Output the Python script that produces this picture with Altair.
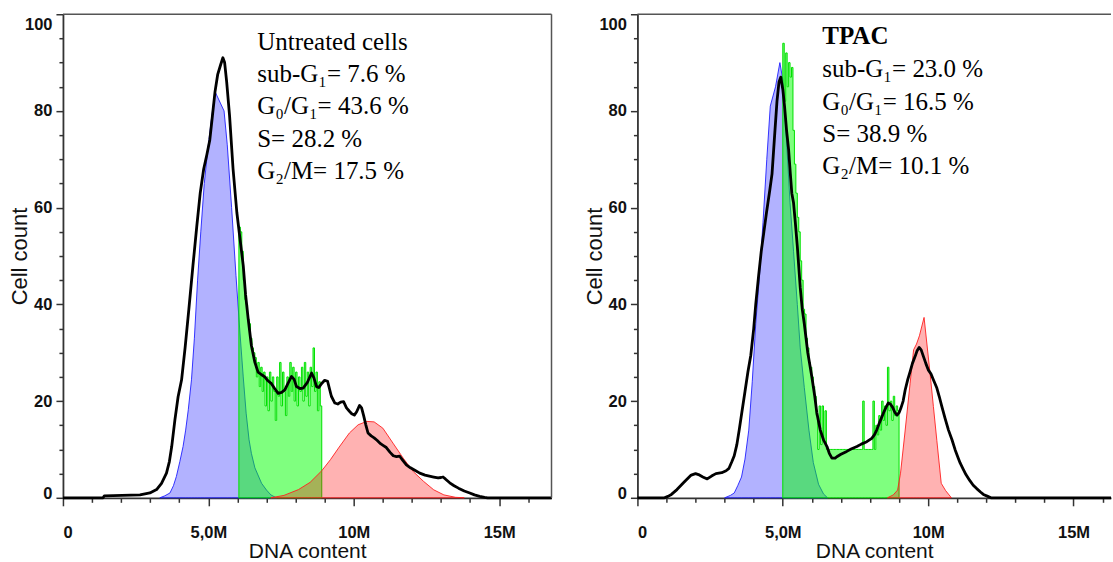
import altair as alt
import pandas as pd

# ---------------- data (x in millions of DNA-content units, y = cell count) -------------
# Left panel: untreated cells
L_black_x = [0, 1.38, 1.42, 2.65, 2.99, 3.22, 3.39, 3.56, 3.66, 3.74, 3.85, 3.96, 4.08, 4.2, 4.33, 4.47, 4.6, 4.72,
             4.84, 4.95, 5.05, 5.14, 5.23, 5.32, 5.42, 5.5, 5.56, 5.63, 5.73, 5.85, 5.98, 6.1, 6.2, 6.28, 6.37, 6.48,
             6.6, 6.71, 6.82, 6.94, 7.05, 7.17, 7.28, 7.4, 7.52, 7.63, 7.75, 7.86, 7.95, 8.03, 8.15, 8.26, 8.4, 8.55,
             8.63, 8.72, 8.8, 8.89, 9.0, 9.1, 9.23, 9.35, 9.45, 9.55, 9.65, 9.75, 9.85, 9.93, 10.02, 10.1, 10.2,
             10.27, 10.34, 10.41, 10.49, 10.6, 10.7, 10.8, 10.92, 11.02, 11.12, 11.25, 11.36, 11.47, 11.58, 11.68,
             11.81, 11.95, 12.1, 12.27, 12.45, 12.6, 12.75, 12.9, 13.0, 13.07, 13.15, 13.3, 13.45, 13.6, 13.8, 13.99,
             14.15, 14.33, 14.5, 14.6, 16.8]
L_black_y = [0, 0, 0.4, 0.6, 1.0, 1.7, 3.0, 5.1, 7.5, 10.6, 16.1, 20.9, 24.4, 31, 39, 48, 56, 63,
             68, 71, 74, 79, 84, 87.5, 89.5, 91, 90, 86, 79, 68, 59, 53, 48, 42, 37, 31.5,
             28, 26, 25.5, 25, 24.2, 23.6, 22.6, 21.6, 21.8, 22.3, 23.8, 25.1, 24.5, 23, 22.6, 22.7, 23.8, 25.8,
             24.8, 23, 22.8, 23.6, 24.3, 24.1, 21, 19.6, 19.4, 19.8, 19.9, 18.6, 17.9, 17.4, 17.1, 17.8, 19.1,
             18.6, 17, 15.2, 13.4, 12.8, 12.4, 11.9, 11.2, 10.8, 10.4, 9.4, 8.7, 8.5, 8.6, 7.8,
             6.8, 6.2, 5.7, 5.1, 4.7, 4.5, 4.3, 4.1, 4.2, 4.3, 3.9, 3.1, 2.5, 2.0, 1.4, 1.0,
             0.6, 0.3, 0.1, 0, 0]
L_blue_x = [3.33, 3.5, 3.68, 3.8, 3.9, 4.02, 4.13, 4.22, 4.31, 4.42, 4.52, 4.63, 4.74, 4.86, 4.99, 5.1, 5.23,
            5.54, 5.65, 5.8, 5.95, 6.08, 6.2, 6.3, 6.4, 6.48, 6.6, 6.83, 7.0, 7.15, 7.34]
L_blue_y = [0, 0.4, 1.0, 2.5, 4.4, 7.5, 10.6, 14, 18.2, 24.4, 33, 45, 55, 65, 72.5, 78, 84,
            80, 73, 60, 46, 34.7, 25, 17.5, 12, 9.2, 6.2, 3.0, 1.6, 0.6, 0]
L_red_x = [7.15, 7.6, 8.1, 8.5, 8.9, 9.2, 9.5, 9.85, 10.15, 10.45, 10.7, 11.0, 11.35, 11.7, 12.05, 12.4,
           12.75, 13.1, 13.5, 13.8]
L_red_y = [0, 0.5, 1.7, 3.2, 5.6, 7.9, 10.5, 13.4, 15.1, 15.8, 15.7, 14.4, 11.3, 8.2, 5.4, 3.4,
           1.65, 0.6, 0.1, 0]
L_s_start = 6.05
L_s_step = 0.05
L_s_vals = [56, 55, 51, 45, 41, 40, 37, 36, 33, 31, 30, 29, 25, 28, 23, 27, 22, 26, 19, 25,
            18, 26, 20, 25, 22, 16, 25, 21, 28, 19, 26, 22, 17, 25, 21, 28, 22, 27, 20, 26,
            19, 25, 22, 27, 20, 28, 21, 26, 19, 27, 23, 31, 22, 26, 18, 24, 19]

# Right panel: TPAC
R_black_x = [0, 0.93, 1.05, 1.17, 1.36, 1.6, 1.85, 2.0, 2.1, 2.25, 2.4, 2.55, 2.7, 2.9, 3.05, 3.15, 3.25, 3.33,
             3.42, 3.5, 3.6, 3.7, 3.8, 3.9, 4.0, 4.07, 4.17, 4.26, 4.35, 4.44, 4.55, 4.63, 4.72, 4.8, 4.87, 4.93,
             5.0, 5.06, 5.13, 5.2, 5.26, 5.31, 5.37, 5.43, 5.5, 5.6, 5.67, 5.74, 5.8, 5.86, 5.93, 6.0, 6.1, 6.17,
             6.29, 6.4, 6.52, 6.6, 6.69, 6.8, 6.86, 7.0, 7.2, 7.35, 7.55, 7.7, 7.89, 8.06, 8.15, 8.23, 8.33, 8.46,
             8.55, 8.63, 8.7, 8.78, 8.86, 8.93, 9.0, 9.06, 9.14, 9.21, 9.3, 9.38, 9.46, 9.55, 9.62, 9.69, 9.76,
             9.84, 9.92, 10.01, 10.1, 10.18, 10.3, 10.38, 10.47, 10.58, 10.7, 10.82, 10.93, 11.03, 11.1, 11.2,
             11.3, 11.43, 11.55, 11.67, 11.8, 11.9, 12.05, 12.16, 16.29]
R_black_y = [0, 0, 0.3, 0.7, 1.7, 3.2, 4.7, 5.0, 4.8, 4.3, 3.9, 4.5, 5.0, 5.2, 5.6, 6.1, 7.5, 8.7,
             11, 14, 18, 22, 26, 29.5, 35, 40, 46, 51, 55, 59, 63.5, 67, 75, 82, 86, 87,
             84.5, 81, 76, 72, 67, 63, 61, 57, 52, 43.5, 39, 36, 33, 30, 27.5, 25, 21, 17.6,
             14, 12, 10.6, 9.2, 8.2, 8.2, 8.5, 9.0, 9.6, 10.1, 10.6, 11.1, 11.6, 12.3, 13, 14, 15.6, 17.5,
             18.7, 19.6, 19.4, 18.7, 17.6, 17.1, 17.6, 18.5, 20, 22.3, 24.5, 26.1, 27.8, 29.2, 30.4, 31.1, 30.6,
             29.2, 27.8, 26.4, 25.6, 24.4, 22.7, 21, 18.9, 16.5, 14, 12, 9.9, 8.3, 7.2, 6.0,
             4.8, 3.6, 2.6, 1.9, 1.2, 0.7, 0.3, 0, 0]
R_blue_x = [3.0, 3.2, 3.33, 3.45, 3.58, 3.7, 3.83, 3.95, 4.07, 4.2, 4.32, 4.45, 4.57, 4.75, 4.9, 5.0, 5.12,
            5.25, 5.37, 5.5, 5.6, 5.74, 5.9, 6.05, 6.23, 6.4, 6.54]
R_blue_y = [0, 0.5, 1, 2.5, 4.3, 8, 14, 24, 36, 46, 57, 70, 81, 85, 90, 86.5, 74.7,
            61, 51, 40, 31, 22.8, 14, 7.3, 2.8, 0.8, 0]
R_red_x = [8.6, 8.8, 8.95, 9.05, 9.2, 9.38, 9.5, 9.6, 9.7, 9.86, 10.07, 10.18, 10.3, 10.45, 10.6, 10.8]
R_red_y = [0, 0.6, 1.6, 5.1, 13.4, 23.7, 30.6, 31.8, 33.5, 37.3, 25.5, 18.9, 11.8, 3.0, 1.5, 0]
R_s_start = 5.0
R_s_step = 0.05
R_s_vals = [94, 82, 92, 85, 90, 87, 89, 76, 69, 63, 58, 55, 49, 45, 39, 38, 33, 31, 28, 27,
            25, 23, 21, 17, 10, 19, 11, 19, 12, 18, 10, 10, 10, 10, 10, 10, 10, 10, 10, 10,
            10, 10, 10, 10, 10, 10, 10, 10, 10, 10, 10, 10, 10, 10, 10, 20, 10, 10, 10, 10,
            10, 10, 20, 10, 15, 13, 17, 14, 20, 16, 19, 15, 27, 18, 20, 16, 21, 17, 19, 18]

L_header = "Untreated cells"
L_stats = ["sub-G\u2081= 7.6 %", "G\u2080/G\u2081= 43.6 %", "S= 28.2 %", "G\u2082/M= 17.5 %"]
L_text_x = 6.68
L_text_y = [92.7, 86.0, 79.3, 72.6, 65.9]
R_header = "TPAC"
R_stats = ["sub-G\u2081= 23.0 %", "G\u2080/G\u2081= 16.5 %", "S= 38.9 %", "G\u2082/M= 10.1 %"]
R_text_x = 6.36
R_text_y = [93.75, 87.0, 80.3, 73.6, 66.9]

X_TICKS = list(range(0, 17))
Y_TICKS = list(range(0, 101, 5))

H = 484
W_L, XMAX_L = 489, 16.8
W_R, XMAX_R = 474, 16.29

SANS = "Liberation Sans"
SERIF = "Liberation Serif, DejaVu Serif"
AX = "#333333"


def x_axis():
    return alt.Axis(
        values=X_TICKS,
        labelExpr="datum.value == 0 ? '0' : datum.value == 5 ? '5,0M' : datum.value % 5 == 0 ? datum.value + 'M' : ''",
        tickSize={"condition": {"test": "datum.value % 5 == 0", "value": 8}, "value": 4.5},
        tickColor=AX, tickWidth=1.5, domainColor=AX, domainWidth=1.8,
        labelFont=SANS, labelFontSize=16.5, labelFontWeight="bold", labelColor="#111111",
        labelPadding=18.5, labelOverlap=False, grid=False,
        title="DNA content", titleFont=SANS, titleFontSize=21, titleFontWeight="normal",
        titleColor="#111111", titleY=64, titleBaseline="bottom",
    )


def y_axis():
    return alt.Axis(
        values=Y_TICKS,
        labelExpr="datum.value % 20 == 0 ? datum.label : ''",
        tickSize={"condition": {"test": "datum.value % 20 == 0", "value": 7}, "value": 4},
        tickColor=AX, tickWidth=1.5, domainColor=AX, domainWidth=1.8,
        labelFont=SANS, labelFontSize=16.5, labelFontWeight="bold", labelColor="#111111",
        labelPadding=4, labelOverlap=False, grid=False,
        labelOffset={"condition": [{"test": "datum.value == 100", "value": 10},
                                   {"test": "datum.value == 0", "value": -4}], "value": 0},
        title="Cell count", titleFont=SANS, titleFontSize=22, titleFontWeight="normal",
        titleColor="#111111", titleX=-43, titleY=H / 2, titleAngle=-90,
        titleBaseline="middle", titleAlign="center",
    )


def panel(bx, by, blx, bly, rx, ry, s_start, s_step, s_vals, header, stats, tx, ty,
          bold_header, xmax, width, right_border):
    xs = alt.Scale(domain=[0, xmax], nice=False, zero=False)
    ys = alt.Scale(domain=[0, 100], nice=False)

    def X(f="x"):
        return alt.X(f"{f}:Q", scale=xs, axis=x_axis())

    def Y(f="y"):
        return alt.Y(f"{f}:Q", scale=ys, axis=y_axis())

    s_x = [round(s_start + i * s_step, 4) for i in range(len(s_vals))] + [round(s_start + len(s_vals) * s_step, 4)]
    s_y = list(s_vals) + [s_vals[-1]]

    blue = alt.Chart(pd.DataFrame({"x": blx, "y": bly})).mark_area(
        color="#0000ff", fillOpacity=0.3, stroke="#2020ff", strokeWidth=1, strokeOpacity=0.9
    ).encode(x=X(), y=Y())
    green = alt.Chart(pd.DataFrame({"x": s_x, "y": s_y})).mark_area(
        color="#00ff00", fillOpacity=0.5, stroke="#00e000", strokeWidth=1, interpolate="step-after"
    ).encode(x=X(), y=Y())
    red = alt.Chart(pd.DataFrame({"x": rx, "y": ry})).mark_area(
        color="#ff0000", fillOpacity=0.3, stroke="#ff2020", strokeWidth=1, strokeOpacity=0.9
    ).encode(x=X(), y=Y())
    black = alt.Chart(pd.DataFrame({"x": bx, "y": by})).mark_line(
        color="black", strokeWidth=2.8, strokeJoin="round"
    ).encode(x=X(), y=Y())

    head = alt.Chart(pd.DataFrame({"x": [tx], "y": [ty[0]], "t": [header]})).mark_text(
        align="left", baseline="alphabetic", font=SERIF, fontSize=25,
        fontWeight="bold" if bold_header else "normal", color="black"
    ).encode(x=X(), y=Y(), text="t:N")
    body = alt.Chart(pd.DataFrame({"x": [tx] * len(stats), "y": ty[1:], "t": stats})).mark_text(
        align="left", baseline="alphabetic", font=SERIF, fontSize=25, color="black"
    ).encode(x=X(), y=Y(), text="t:N")

    top = alt.Chart(pd.DataFrame({"x": [0], "x2": [xmax], "y": [100]})).mark_rule(
        color="#555555", strokeWidth=1.5
    ).encode(x=X(), x2="x2:Q", y=Y())

    layers = [blue, green, red, black, head, body, top]
    if right_border:
        rb = alt.Chart(pd.DataFrame({"x": [xmax], "y": [0], "y2": [100]})).mark_rule(
            color="#555555", strokeWidth=1.5
        ).encode(x=X(), y=Y(), y2="y2:Q")
        layers.append(rb)
    return alt.layer(*layers).properties(width=width, height=H)


left = panel(L_black_x, L_black_y, L_blue_x, L_blue_y, L_red_x, L_red_y,
             L_s_start, L_s_step, L_s_vals, L_header, L_stats, L_text_x, L_text_y,
             False, XMAX_L, W_L, True)
right = panel(R_black_x, R_black_y, R_blue_x, R_blue_y, R_red_x, R_red_y,
              R_s_start, R_s_step, R_s_vals, R_header, R_stats, R_text_x, R_text_y,
              True, XMAX_R, W_R, False)

chart = alt.hconcat(left, right, spacing=30).properties(
    padding={"left": 9, "top": 13, "right": 0, "bottom": 0},
    background="white",
).configure_view(strokeWidth=0)

chart.save("out.html", embed_options={"renderer": "svg", "actions": False})
